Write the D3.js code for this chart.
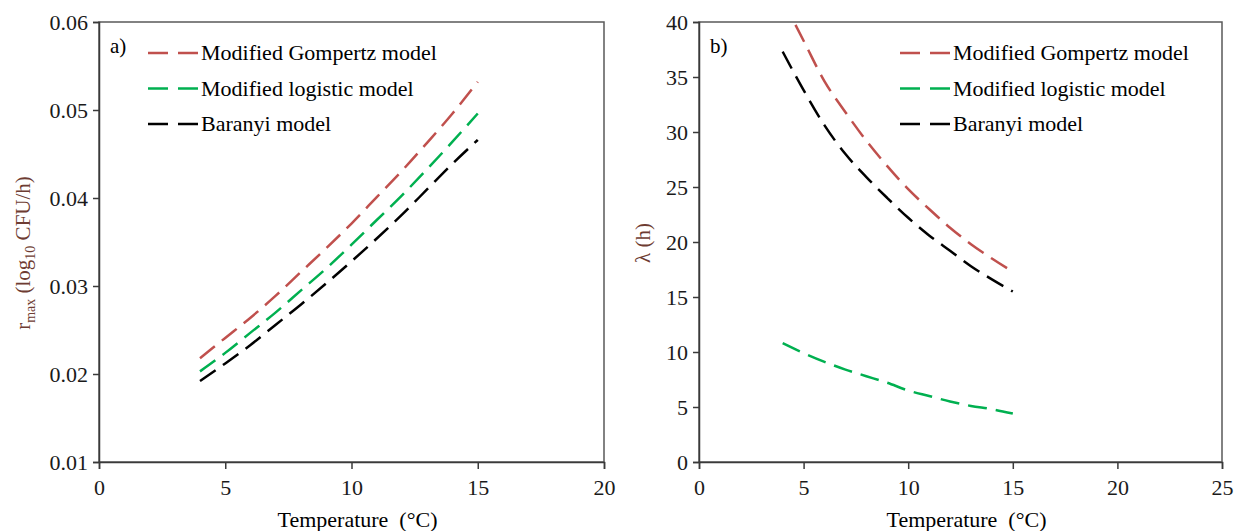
<!DOCTYPE html>
<html>
<head>
<meta charset="utf-8">
<script src="https://cdn.jsdelivr.net/npm/d3@7"></script>
<style>
  body { margin: 0; background: #fff; }
  svg text { font-family: "Liberation Serif", serif; }
</style>
</head>
<body>
<div id="vis"></div>
<script>
// temperatures (°C) the three models were evaluated at
var temps = [4, 5, 6, 7, 8, 9, 10, 11, 12, 13, 14, 15];

// a) maximum growth rate, log10 CFU/h
var rmaxGompertz = [0.0218, 0.0241, 0.0264, 0.0289, 0.0316, 0.0343, 0.0371, 0.0401, 0.0431, 0.0463, 0.0496, 0.0532];
var rmaxLogistic = [0.0203, 0.0224, 0.0247, 0.0270, 0.0295, 0.0320, 0.0347, 0.0375, 0.0403, 0.0433, 0.0464, 0.0496];
var rmaxBaranyi  = [0.0192, 0.0212, 0.0233, 0.0256, 0.0279, 0.0303, 0.0328, 0.0354, 0.0381, 0.0410, 0.0439, 0.0466];

// b) lag time, h
var lagGompertz = [42.0, 38.3, 34.6, 31.8, 29.2, 26.9, 24.8, 23.0, 21.3, 19.8, 18.5, 17.3];
var lagLogistic = [10.8, 9.9, 9.1, 8.4, 7.8, 7.2, 6.5, 6.0, 5.5, 5.1, 4.8, 4.4];
var lagBaranyi  = [37.3, 33.8, 30.6, 28.0, 25.9, 24.0, 22.2, 20.6, 19.2, 17.8, 16.6, 15.5];

var modelNames = ["Modified Gompertz model", "Modified logistic model", "Baranyi model"];
var modelColors = ["#c0504d", "#00b050", "#000000"];

var xTicksA = [0, 5, 10, 15, 20];
var yTicksA = [0.01, 0.02, 0.03, 0.04, 0.05, 0.06];
var xTicksB = [0, 5, 10, 15, 20, 25];
var yTicksB = [0, 5, 10, 15, 20, 25, 30, 35, 40];

var svg = d3.select('#vis').append('svg')
  .attr('width', 1234)
  .attr('height', 531)
  .attr('font-family', '"Liberation Serif", serif');

// one panel: frame, axes, curves and legend
function drawPanel(opts) {
  var x = d3.scaleLinear().domain(opts.xDomain).range([opts.left, opts.right]);
  var y = d3.scaleLinear().domain(opts.yDomain).range([opts.bottom, opts.top]);

  var g = svg.append('g');

  // plot area frame
  g.append('rect')
    .attr('x', opts.left).attr('y', opts.top)
    .attr('width', opts.right - opts.left)
    .attr('height', opts.bottom - opts.top)
    .attr('fill', 'none')
    .attr('stroke', '#595959')
    .attr('stroke-width', 1.5);

  var xAxis = g.append('g')
    .attr('transform', 'translate(0,' + opts.bottom + ')')
    .call(d3.axisBottom(x).tickValues(opts.xTicks).tickSize(7).tickPadding(10).tickFormat(d3.format('d')));
  var yAxis = g.append('g')
    .attr('transform', 'translate(' + opts.left + ',0)')
    .call(d3.axisLeft(y).tickValues(opts.yTicks).tickSize(6).tickPadding(5).tickFormat(opts.yFormat));

  [xAxis, yAxis].forEach(function (a) {
    a.attr('font-family', null).attr('font-size', null);
    a.select('.domain').attr('stroke', '#3a3a3a').attr('stroke-width', 1.5);
    a.selectAll('.tick line').attr('stroke', '#3a3a3a').attr('stroke-width', 1.5);
    a.selectAll('.tick text')
      .attr('fill', '#1a1a1a')
      .attr('font-size', '22px');
  });

  // clip so curves stay inside the plot area
  var clipId = 'clip-' + opts.id;
  svg.append('clipPath').attr('id', clipId)
    .append('rect')
    .attr('x', opts.left).attr('y', opts.top)
    .attr('width', opts.right - opts.left)
    .attr('height', opts.bottom - opts.top);

  var line = d3.line()
    .x(function (d) { return x(d[0]); })
    .y(function (d) { return y(d[1]); })
    .curve(d3.curveMonotoneX);

  opts.series.forEach(function (vals, i) {
    g.append('path')
      .datum(temps.map(function (t, j) { return [t, vals[j]]; }))
      .attr('clip-path', 'url(#' + clipId + ')')
      .attr('d', line)
      .attr('fill', 'none')
      .attr('stroke', modelColors[i])
      .attr('stroke-width', 2.5)
      .attr('stroke-dasharray', '19,9');
  });

  // panel letter
  g.append('text')
    .attr('x', opts.left + 11)
    .attr('y', opts.top + 31)
    .attr('font-size', '21px')
    .attr('fill', '#000')
    .text(opts.letter);

  // legend
  var leg = g.append('g').attr('transform', 'translate(' + opts.legendX + ',' + (opts.top + 31) + ')');
  modelNames.forEach(function (name, i) {
    var row = leg.append('g').attr('transform', 'translate(0,' + (i * 35.5) + ')');
    row.append('line')
      .attr('x1', 0).attr('x2', 50)
      .attr('y1', 0).attr('y2', 0)
      .attr('stroke', modelColors[i])
      .attr('stroke-width', 2.5)
      .attr('stroke-dasharray', '20,10');
    row.append('text')
      .attr('x', 53)
      .attr('y', 7)
      .attr('font-size', '22px')
      .attr('fill', '#000')
      .text(name);
  });

  // x axis title
  g.append('text')
    .attr('x', (opts.left + opts.right) / 2 + 6)
    .attr('y', 527)
    .attr('text-anchor', 'middle')
    .attr('font-size', '22px')
    .attr('fill', '#000')
    .attr('xml:space', 'preserve')
    .text('Temperature  (\u00B0C)');

  return { x: x, y: y, g: g };
}

drawPanel({
  id: 'a', letter: 'a)',
  left: 99, right: 604, top: 22, bottom: 462,
  xDomain: [0, 20], yDomain: [0.01, 0.06],
  xTicks: xTicksA, yTicks: yTicksA, yFormat: d3.format('.2f'),
  series: [rmaxGompertz, rmaxLogistic, rmaxBaranyi],
  legendX: 148
});

drawPanel({
  id: 'b', letter: 'b)',
  left: 699, right: 1222, top: 22, bottom: 462,
  xDomain: [0, 25], yDomain: [0, 40],
  xTicks: xTicksB, yTicks: yTicksB, yFormat: d3.format('d'),
  series: [lagGompertz, lagLogistic, lagBaranyi],
  legendX: 900
});

// y axis titles
var labA = svg.append('text')
  .attr('transform', 'translate(30,253) rotate(-90)')
  .attr('text-anchor', 'middle')
  .attr('font-size', '21px')
  .attr('fill', '#6e3c32');
labA.append('tspan').text('r');
labA.append('tspan').attr('font-size', '14px').attr('dy', 5).text('max');
labA.append('tspan').attr('dy', -5).text(' (log');
labA.append('tspan').attr('font-size', '14px').attr('dy', 5).text('10');
labA.append('tspan').attr('dy', -5).text('  CFU/h)');

svg.append('text')
  .attr('transform', 'translate(650,243) rotate(-90)')
  .attr('text-anchor', 'middle')
  .attr('font-size', '21px')
  .attr('fill', '#6e3c32')
  .text('\u03BB (h)');
</script>
</body>
</html>
